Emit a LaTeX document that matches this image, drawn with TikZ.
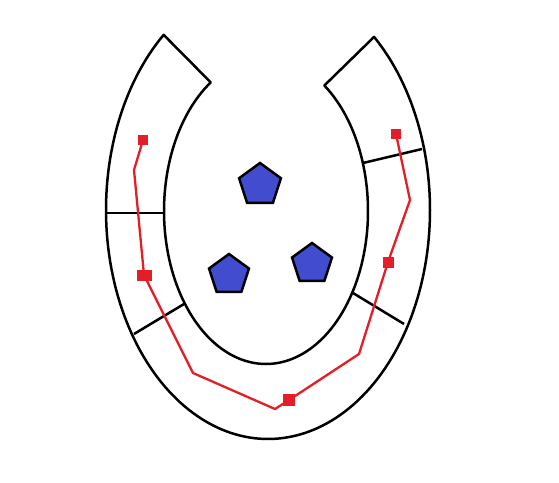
\documentclass[tikz,border=0pt]{standalone}
\usetikzlibrary{shapes.geometric}
\definecolor{pentblue}{RGB}{66,76,206}
\definecolor{pathred}{RGB}{228,30,38}
\tikzset{
  shoe/.style={draw=black, line width=2.5pt, line join=round},
  divider/.style={draw=black, line width=2.5pt},
  redpath/.style={draw=pathred, line width=2.3pt, line join=miter},
  marker/.style={fill=pathred, draw=none, rectangle, inner sep=0pt, minimum size=10pt},
  pent/.style={regular polygon, regular polygon sides=5, draw=black, line width=2.5pt, fill=pentblue, inner sep=0pt, minimum size=42pt}
}
\begin{document}
\begin{tikzpicture}[x=1pt,y=-1pt]
\useasboundingbox (0,0) rectangle (559,482);
% horseshoe outline
\draw[shoe] plot[domain=229.9:-49.1, samples=160, variable=\t] ({268+162*cos(\t)},{210+229*sin(\t)})
  -- plot[domain=-55.1:237.2, samples=140, variable=\t] ({266+102*cos(\t)},{211+153*sin(\t)}) -- cycle;
% dividers
\coordinate (d1a) at (107,213); \coordinate (d1b) at (164,213);
\coordinate (d2a) at (134,334); \coordinate (d2b) at (184,304);
\coordinate (d3a) at (353,293); \coordinate (d3b) at (404,324);
\coordinate (d4a) at (363,163); \coordinate (d4b) at (422,149);
\draw[divider] (d1a) -- (d1b);
\draw[divider] (d2a) -- (d2b);
\draw[divider] (d3a) -- (d3b);
\draw[divider] (d4a) -- (d4b);
% red path
\coordinate (m1) at (143,140);
\coordinate (b1) at (134,170);
\coordinate (m2) at (144,275);
\coordinate (b2) at (193,373);
\coordinate (b3) at (275,409);
\coordinate (m3) at (289,400);
\coordinate (b4) at (359,354);
\coordinate (m4) at (388,262);
\coordinate (b5) at (410,200);
\coordinate (m5) at (396,134);
\draw[redpath] (m1) -- (b1) -- (m2) -- (b2) -- (b3) -- (m3) -- (b4) -- (m4) -- (b5) -- (m5);
\node[marker] (s1) at (m1) {};
\node[marker, minimum width=15pt, minimum height=11pt] (s2) at (m2) {};
\node[marker, minimum size=12pt] (s3) at (m3) {};
\node[marker, minimum size=11pt] (s4) at (m4) {};
\node[marker] (s5) at (m5) {};
% pentagons
\node[pent, minimum size=44pt] (p1) at (260,185) {};
\node[pent] (p2) at (229,275) {};
\node[pent] (p3) at (312,264) {};
\end{tikzpicture}
\end{document}
